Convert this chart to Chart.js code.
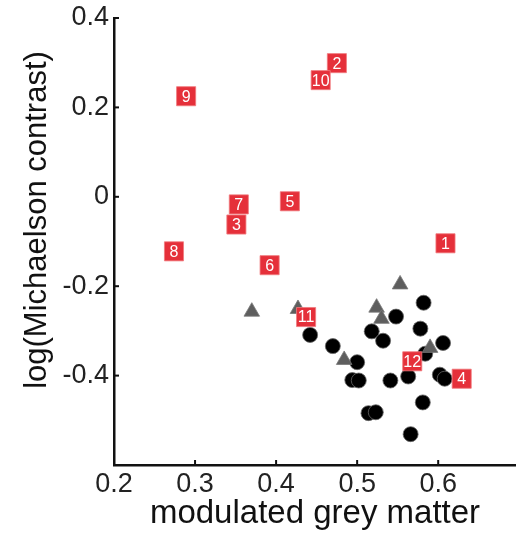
<!DOCTYPE html>
<html>
<head>
<meta charset="utf-8">
<script src="https://cdn.jsdelivr.net/npm/chart.js@4"></script>
<style>
  html, body { margin: 0; padding: 0; background: #fff; overflow: hidden; }
  #wrap { width: 516px; height: 533px; position: relative; }
  canvas { display: block; }
</style>
</head>
<body>
<div id="wrap"><canvas id="grafico"></canvas></div>
<script>
// values
const rotulos = ['1', '2', '3', '4', '5', '6', '7', '8', '9', '10', '11', '12'];
const rotulosX = [0.609, 0.475, 0.351, 0.629, 0.417, 0.392, 0.354, 0.274, 0.289, 0.455, 0.437, 0.568];
const rotulosY = [-0.104, 0.299, -0.062, -0.407, -0.010, -0.153, -0.017, -0.122, 0.225, 0.261, -0.269, -0.368];

const triX = [0.553, 0.427, 0.524, 0.530, 0.590, 0.484, 0.370];
const triY = [-0.196, -0.251, -0.248, -0.273, -0.338, -0.365, -0.257];

const circX = [0.582, 0.548, 0.578, 0.518, 0.532, 0.442, 0.470, 0.606, 0.584, 0.500,
               0.494, 0.502, 0.541, 0.563, 0.602, 0.608, 0.581, 0.514, 0.523, 0.566];
const circY = [-0.237, -0.268, -0.295, -0.301, -0.322, -0.309, -0.334, -0.327, -0.351, -0.370,
               -0.410, -0.411, -0.411, -0.402, -0.398, -0.407, -0.460, -0.484, -0.482, -0.531];

const ticksX = [0.2, 0.3, 0.4, 0.5, 0.6];
const rotulosTickX = ['0.2', '0.3', '0.4', '0.5', '0.6'];
const ticksY = [-0.4, -0.2, 0, 0.2, 0.4];
const rotulosTickY = ['-0.4', '-0.2', '0', '0.2', '0.4'];

const tituloX = 'modulated grey matter';
const tituloY = 'log(Michaelson contrast)';

const pares = (xs, ys) => xs.map((x, i) => ({ x, y: ys[i] }));
const fonte = '"Liberation Sans", Arial, sans-serif';

// numbers inside the red squares, inward tick marks and the y title
const plugExtras = {
  id: 'extras',
  afterDatasetsDraw(chart) {
    const ctx = chart.ctx;
    const meta = chart.getDatasetMeta(0);
    ctx.save();
    ctx.fillStyle = '#fff';
    ctx.font = '16px ' + fonte;
    ctx.textAlign = 'center';
    ctx.textBaseline = 'middle';
    meta.data.forEach((pt, i) => ctx.fillText(rotulos[i], pt.x, pt.y + 1));
    ctx.restore();
  },
  afterDraw(chart) {
    const { ctx, scales: { x, y } } = chart;
    ctx.save();
    ctx.strokeStyle = '#111';
    ctx.lineWidth = 2;
    ticksX.forEach(v => {
      const px = x.getPixelForValue(v);
      ctx.beginPath(); ctx.moveTo(px, y.bottom); ctx.lineTo(px, y.bottom - 5); ctx.stroke();
    });
    ticksY.forEach(v => {
      const py = y.getPixelForValue(v);
      ctx.beginPath(); ctx.moveTo(x.left, py); ctx.lineTo(x.left + 5, py); ctx.stroke();
    });

    // y title, a bit above the middle like in the original
    ctx.translate(37, 220);
    ctx.rotate(-Math.PI / 2);
    ctx.fillStyle = '#111';
    ctx.font = '31px ' + fonte;
    ctx.textAlign = 'center';
    ctx.textBaseline = 'middle';
    ctx.fillText(tituloY, 0, 0);
    ctx.restore();
  }
};

new Chart(document.getElementById('grafico'), {
  type: 'scatter',
  data: {
    datasets: [
      {
        data: pares(rotulosX, rotulosY),
        pointStyle: 'rect',
        pointRadius: 13.5,
        pointHoverRadius: 13.5,
        backgroundColor: '#e5303a',
        borderColor: '#f07a7e',
        borderWidth: 0.8,
      },
      {
        data: pares(triX, triY),
        pointStyle: 'triangle',
        pointRadius: 9,
        pointHoverRadius: 9,
        backgroundColor: '#5e5e5e',
        borderColor: '#777',
        borderWidth: 0.8,
      },
      {
        data: pares(circX, circY),
        pointStyle: 'circle',
        pointRadius: 7.5,
        pointHoverRadius: 7.5,
        backgroundColor: '#000',
        borderColor: '#666',
        borderWidth: 0.8,
      },
    ],
  },
  options: {
    responsive: true,
    maintainAspectRatio: false,
    animation: false,
    layout: { autoPadding: false, padding: { top: 18, right: 0, left: 0, bottom: 0 } },
    plugins: { legend: { display: false }, tooltip: { enabled: false } },
    scales: {
      x: {
        type: 'linear',
        min: 0.2,
        max: 0.696,
        afterBuildTicks: s => { s.ticks = ticksX.map(v => ({ value: v })); },
        afterFit: s => { s.height = 68; s.paddingLeft = 0; s.paddingRight = 0; },
        grid: { display: false, drawTicks: false },
        border: { display: true, color: '#111', width: 2.5 },
        ticks: {
          color: '#222',
          padding: 3,
          maxRotation: 0,
          font: { family: fonte, size: 27 },
          callback: (v, i) => rotulosTickX[i],
        },
        title: {
          display: true,
          text: tituloX,
          color: '#111',
          font: { family: fonte, size: 33 },
          padding: { top: 0, bottom: -1 },
        },
      },
      y: {
        min: -0.6,
        max: 0.4,
        afterBuildTicks: s => { s.ticks = ticksY.map(v => ({ value: v })); },
        afterFit: s => { s.width = 114; s.paddingTop = 0; s.paddingBottom = 0; },
        grid: { display: false, drawTicks: false },
        border: { display: true, color: '#111', width: 2.5 },
        ticks: {
          color: '#222',
          padding: 5,
          font: { family: fonte, size: 27 },
          callback: (v, i) => rotulosTickY[i],
        },
      },
    },
  },
  plugins: [plugExtras],
});
</script>
</body>
</html>
